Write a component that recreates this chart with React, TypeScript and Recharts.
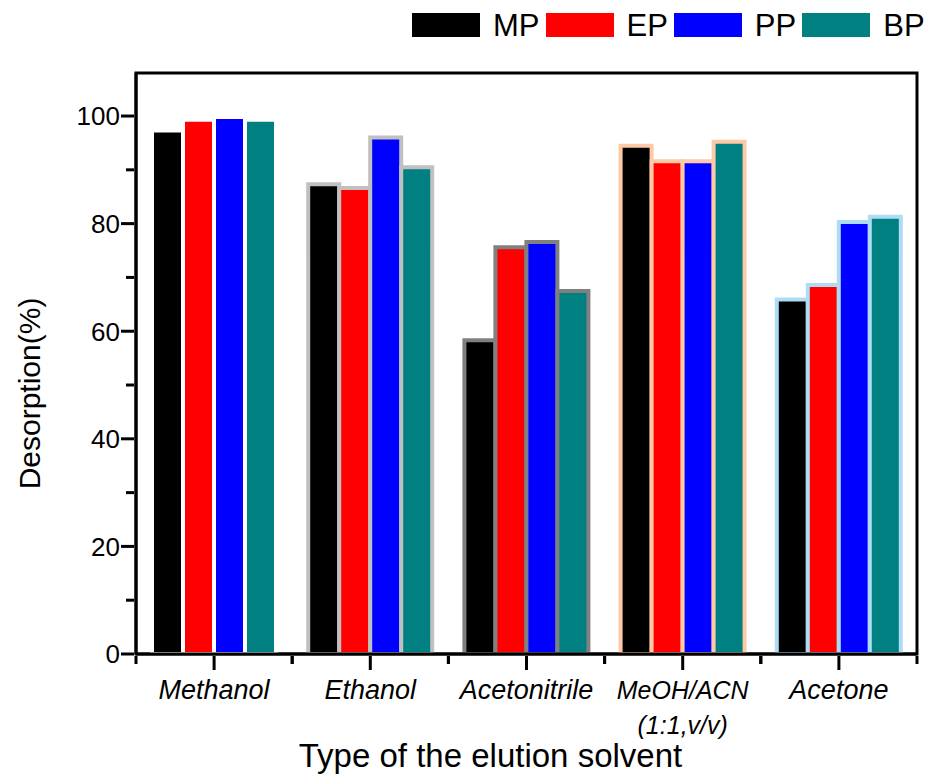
import React from 'react';
import { BarChart, Bar, XAxis, YAxis, Cell, ReferenceArea, Label } from 'recharts';

const solvents = ['Methanol', 'Ethanol', 'Acetonitrile', 'MeOH/ACN|(1:1,v/v)', 'Acetone'];
const mpValues = [97.3, 87.3, 58.3, 94.5, 65.9];
const epValues = [99.3, 86.6, 75.6, 91.6, 68.6];
const ppValues = [99.8, 96.0, 76.6, 91.6, 80.3];
const bpValues = [99.3, 90.5, 67.5, 95.2, 81.3];
const groupOutline = ['#ffffff', '#c0c0c0', '#808080', '#fdc9a6', '#aedcf4'];
const seriesNames = ['MP', 'EP', 'PP', 'BP'];
const seriesColors = ['#000000', '#ff0000', '#0000ff', '#008080'];
const yTicks = [0, 10, 20, 30, 40, 50, 60, 70, 80, 90, 100];

const data = solvents.map((s, i) => ({
  solvent: s,
  MP: mpValues[i],
  EP: epValues[i],
  PP: ppValues[i],
  BP: bpValues[i],
}));

const FONT = '"Liberation Sans", Arial, sans-serif';
const W = 925;
const H = 781;
const M = { top: 73, right: 8, bottom: 0, left: 0 };
const Y_W = 136;
const X_H = 127;
const PLOT_W = W - M.left - M.right - Y_W;
const BAND = PLOT_W / solvents.length;

const YTick = (props: any) => {
  const { x, y, payload } = props;
  const major = payload.value % 20 === 0;
  return (
    <g>
      <line x1={x} x2={x - (major ? 13 : 8)} y1={y} y2={y} stroke="#000" strokeWidth={3} />
      {major && (
        <text x={x - 14} y={y} dy="0.36em" textAnchor="end" fontSize={26} fontFamily={FONT} fill="#000">
          {payload.value}
        </text>
      )}
    </g>
  );
};

const XTick = (props: any) => {
  const { x, y, payload } = props;
  const lines = String(payload.value).split('|');
  return (
    <g>
      <line x1={x} x2={x} y1={y} y2={y + 14} stroke="#000" strokeWidth={3} />
      <line x1={x - BAND / 2} x2={x - BAND / 2} y1={y} y2={y + 8} stroke="#000" strokeWidth={3} />
      <line x1={x + BAND / 2} x2={x + BAND / 2} y1={y} y2={y + 8} stroke="#000" strokeWidth={3} />
      {lines.map((l, i) => (
        <text
          key={i}
          x={x}
          y={y + 43 + i * 35}
          textAnchor="middle"
          fontSize={lines.length > 1 ? 25 : 27}
          fontStyle="italic"
          fontFamily={FONT}
          fill="#000"
        >
          {l}
        </text>
      ))}
    </g>
  );
};

const YTitle = (props: any) => {
  const vb = props.viewBox || { x: 0, y: 73, width: 136, height: 581 };
  const cx = vb.x + 29;
  const cy = vb.y + vb.height / 2 + 30;
  return (
    <text
      x={cx}
      y={cy}
      transform={`rotate(-90, ${cx}, ${cy})`}
      textAnchor="middle"
      dominantBaseline="central"
      fontSize={30}
      fontFamily={FONT}
      fill="#000"
    >
      Desorption(%)
    </text>
  );
};

const XTitle = (props: any) => {
  const vb = props.viewBox || { x: 136, y: 654, width: 781, height: 127 };
  return (
    <text
      x={vb.x + vb.width / 2 - 36}
      y={vb.y + 113}
      textAnchor="middle"
      fontSize={33}
      fontFamily={FONT}
      fill="#000"
    >
      Type of the elution solvent
    </text>
  );
};

export default function App() {
  const keys = ['MP', 'EP', 'PP', 'BP'];
  return (
    <div style={{ position: 'absolute', left: 0, top: 0, width: W, height: H, background: '#fff' }}>
      <div
        style={{
          position: 'absolute',
          left: 412,
          top: 13,
          display: 'flex',
          alignItems: 'center',
          fontFamily: FONT,
          fontSize: 31,
          lineHeight: '24px',
          color: '#000',
          zIndex: 2,
        }}
      >
        {seriesNames.map((n, i) => (
          <div key={n} style={{ display: 'flex', alignItems: 'center', marginRight: 6 }}>
            <div style={{ width: 68, height: 24, background: seriesColors[i] }} />
            <span style={{ marginLeft: 13, height: 24, lineHeight: '26px' }}>{n}</span>
          </div>
        ))}
      </div>
      <BarChart width={W} height={H} data={data} margin={M} barGap={0} barSize={31}>
        <XAxis
          dataKey="solvent"
          height={X_H}
          interval={0}
          tickLine={false}
          tickSize={0}
          axisLine={{ stroke: '#000', strokeWidth: 3 }}
          tick={<XTick />}
        >
          <Label content={<XTitle />} />
        </XAxis>
        <YAxis
          type="number"
          width={Y_W}
          domain={[0, 108]}
          ticks={yTicks}
          interval={0}
          allowDataOverflow
          tickLine={false}
          tickSize={0}
          axisLine={{ stroke: '#000', strokeWidth: 3 }}
          tick={<YTick />}
        >
          <Label content={<YTitle />} />
        </YAxis>
        {keys.map((k, si) => (
          <Bar key={k} dataKey={k} fill={seriesColors[si]} strokeWidth={4} isAnimationActive={false}>
            {data.map((d, ci) => (
              <Cell key={ci} fill={seriesColors[si]} stroke={groupOutline[ci]} />
            ))}
          </Bar>
        ))}
        <ReferenceArea y1={0} y2={108} fill="none" stroke="#000" strokeWidth={3} ifOverflow="visible" />
      </BarChart>
    </div>
  );
}
